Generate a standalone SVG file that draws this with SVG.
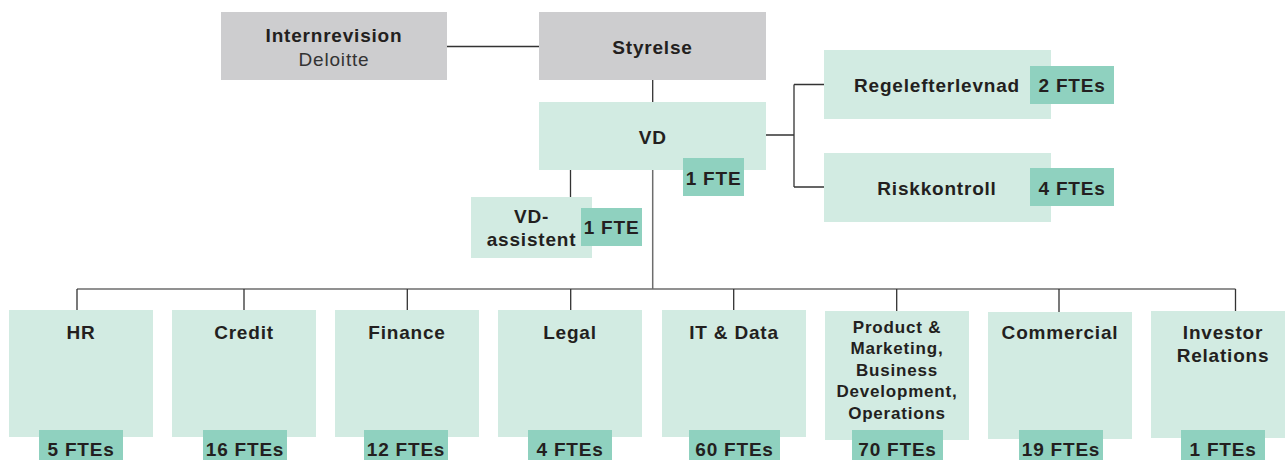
<svg xmlns="http://www.w3.org/2000/svg" width="1285" height="460" viewBox="0 0 1285 460">
<style>
.gray{fill:#cdcdcf}
.box{fill:#d2ebe2}
.badge{fill:#8fd1bf}
text{font-family:"Liberation Sans",Arial,sans-serif;fill:#231f20;text-anchor:middle}
.t{font-size:19px;font-weight:bold;letter-spacing:0.8px}
.s{font-size:17px;font-weight:bold;letter-spacing:0.8px}
.r{font-size:19px;letter-spacing:0.8px;fill:#333}
.ln{stroke:#333;stroke-width:1.3;fill:none}
.lg{stroke:#6d6d6d;stroke-width:1.5;fill:none}
</style>
<rect width="1285" height="460" fill="#fff"/>
<g id="connectors">
<path class="ln" d="M447 46.5H539"/>
<path class="ln" d="M652.7 80V102"/>
<path class="ln" d="M766 135H794M794 84.5V187M794 84.5H824M794 187H824"/>
<path class="ln" d="M570.5 170V197"/>
<path class="lg" d="M652.7 170V289"/>
<path class="lg" d="M77 289H1235.5"/>
<path class="ln" d="M77 289V310M244 289V310M407.3 289V310M570.7 289V310M733.7 289V310M896.7 289V311M1059 289V312M1235.5 289V311"/>
</g>
<g id="internrevision">
<rect class="gray" x="221" y="12" width="226" height="68"/>
<text class="t" x="334" y="42">Internrevision</text>
<text class="r" x="334" y="66">Deloitte</text>
</g>
<g id="styrelse">
<rect class="gray" x="539" y="12" width="227" height="68"/>
<text class="t" x="652.5" y="54">Styrelse</text>
</g>
<g id="vd">
<rect class="box" x="539" y="102" width="227" height="68"/>
<text class="t" x="652.7" y="143.5">VD</text>
<rect class="badge" x="683" y="158" width="61" height="38"/>
<text class="t" x="713.5" y="184.5">1 FTE</text>
</g>
<g id="vd-assistent">
<rect class="box" x="471" y="197" width="121" height="61"/>
<text class="t" x="531.5" y="223">VD-</text>
<text class="t" x="531.5" y="245.5">assistent</text>
<rect class="badge" x="581" y="208" width="61" height="38"/>
<text class="t" x="611.5" y="234.3">1 FTE</text>
</g>
<g id="regelefterlevnad">
<rect class="box" x="824" y="50" width="227" height="69"/>
<text class="t" x="937" y="91.7">Regelefterlevnad</text>
<rect class="badge" x="1030" y="66" width="84" height="38"/>
<text class="t" x="1072" y="91.7">2 FTEs</text>
</g>
<g id="riskkontroll">
<rect class="box" x="824" y="153" width="227" height="69"/>
<text class="t" x="937" y="195">Riskkontroll</text>
<rect class="badge" x="1030" y="168" width="84" height="38"/>
<text class="t" x="1072" y="195">4 FTEs</text>
</g>
<g id="hr">
<rect class="box" x="9" y="310" width="144" height="127"/>
<text class="t" x="81" y="338.5">HR</text>
<rect class="badge" x="39" y="430" width="84" height="40"/>
<text class="t" x="81" y="456">5 FTEs</text>
</g>
<g id="credit">
<rect class="box" x="172" y="310" width="144" height="127"/>
<text class="t" x="244" y="338.5">Credit</text>
<rect class="badge" x="203" y="430" width="84" height="40"/>
<text class="t" x="245" y="456">16 FTEs</text>
</g>
<g id="finance">
<rect class="box" x="335" y="310" width="144" height="127"/>
<text class="t" x="407" y="338.5">Finance</text>
<rect class="badge" x="364" y="430" width="84" height="40"/>
<text class="t" x="406" y="456">12 FTEs</text>
</g>
<g id="legal">
<rect class="box" x="498" y="310" width="144" height="127"/>
<text class="t" x="570" y="338.5">Legal</text>
<rect class="badge" x="528" y="430" width="84" height="40"/>
<text class="t" x="570" y="456">4 FTEs</text>
</g>
<g id="it-data">
<rect class="box" x="662" y="310" width="144" height="127"/>
<text class="t" x="734" y="338.5">IT &amp; Data</text>
<rect class="badge" x="689" y="430" width="91" height="40"/>
<text class="t" x="734.5" y="456">60 FTEs</text>
</g>
<g id="product">
<rect class="box" x="825" y="311" width="144" height="129"/>
<text class="s" x="897" y="332.7">Product &amp;</text>
<text class="s" x="897" y="354">Marketing,</text>
<text class="s" x="897" y="375.7">Business</text>
<text class="s" x="897" y="397.3">Development,</text>
<text class="s" x="897" y="418.5">Operations</text>
<rect class="badge" x="852" y="430" width="91" height="40"/>
<text class="t" x="897.5" y="456">70 FTEs</text>
</g>
<g id="commercial">
<rect class="box" x="988" y="312" width="144" height="127"/>
<text class="t" x="1060" y="339">Commercial</text>
<rect class="badge" x="1019" y="430" width="84" height="40"/>
<text class="t" x="1061" y="456">19 FTEs</text>
</g>
<g id="investor-relations">
<rect class="box" x="1151" y="311" width="144" height="127"/>
<text class="t" x="1223" y="338.5">Investor</text>
<text class="t" x="1223" y="361.7">Relations</text>
<rect class="badge" x="1181" y="430" width="84" height="40"/>
<text class="t" x="1223" y="456">1 FTEs</text>
</g>
</svg>
